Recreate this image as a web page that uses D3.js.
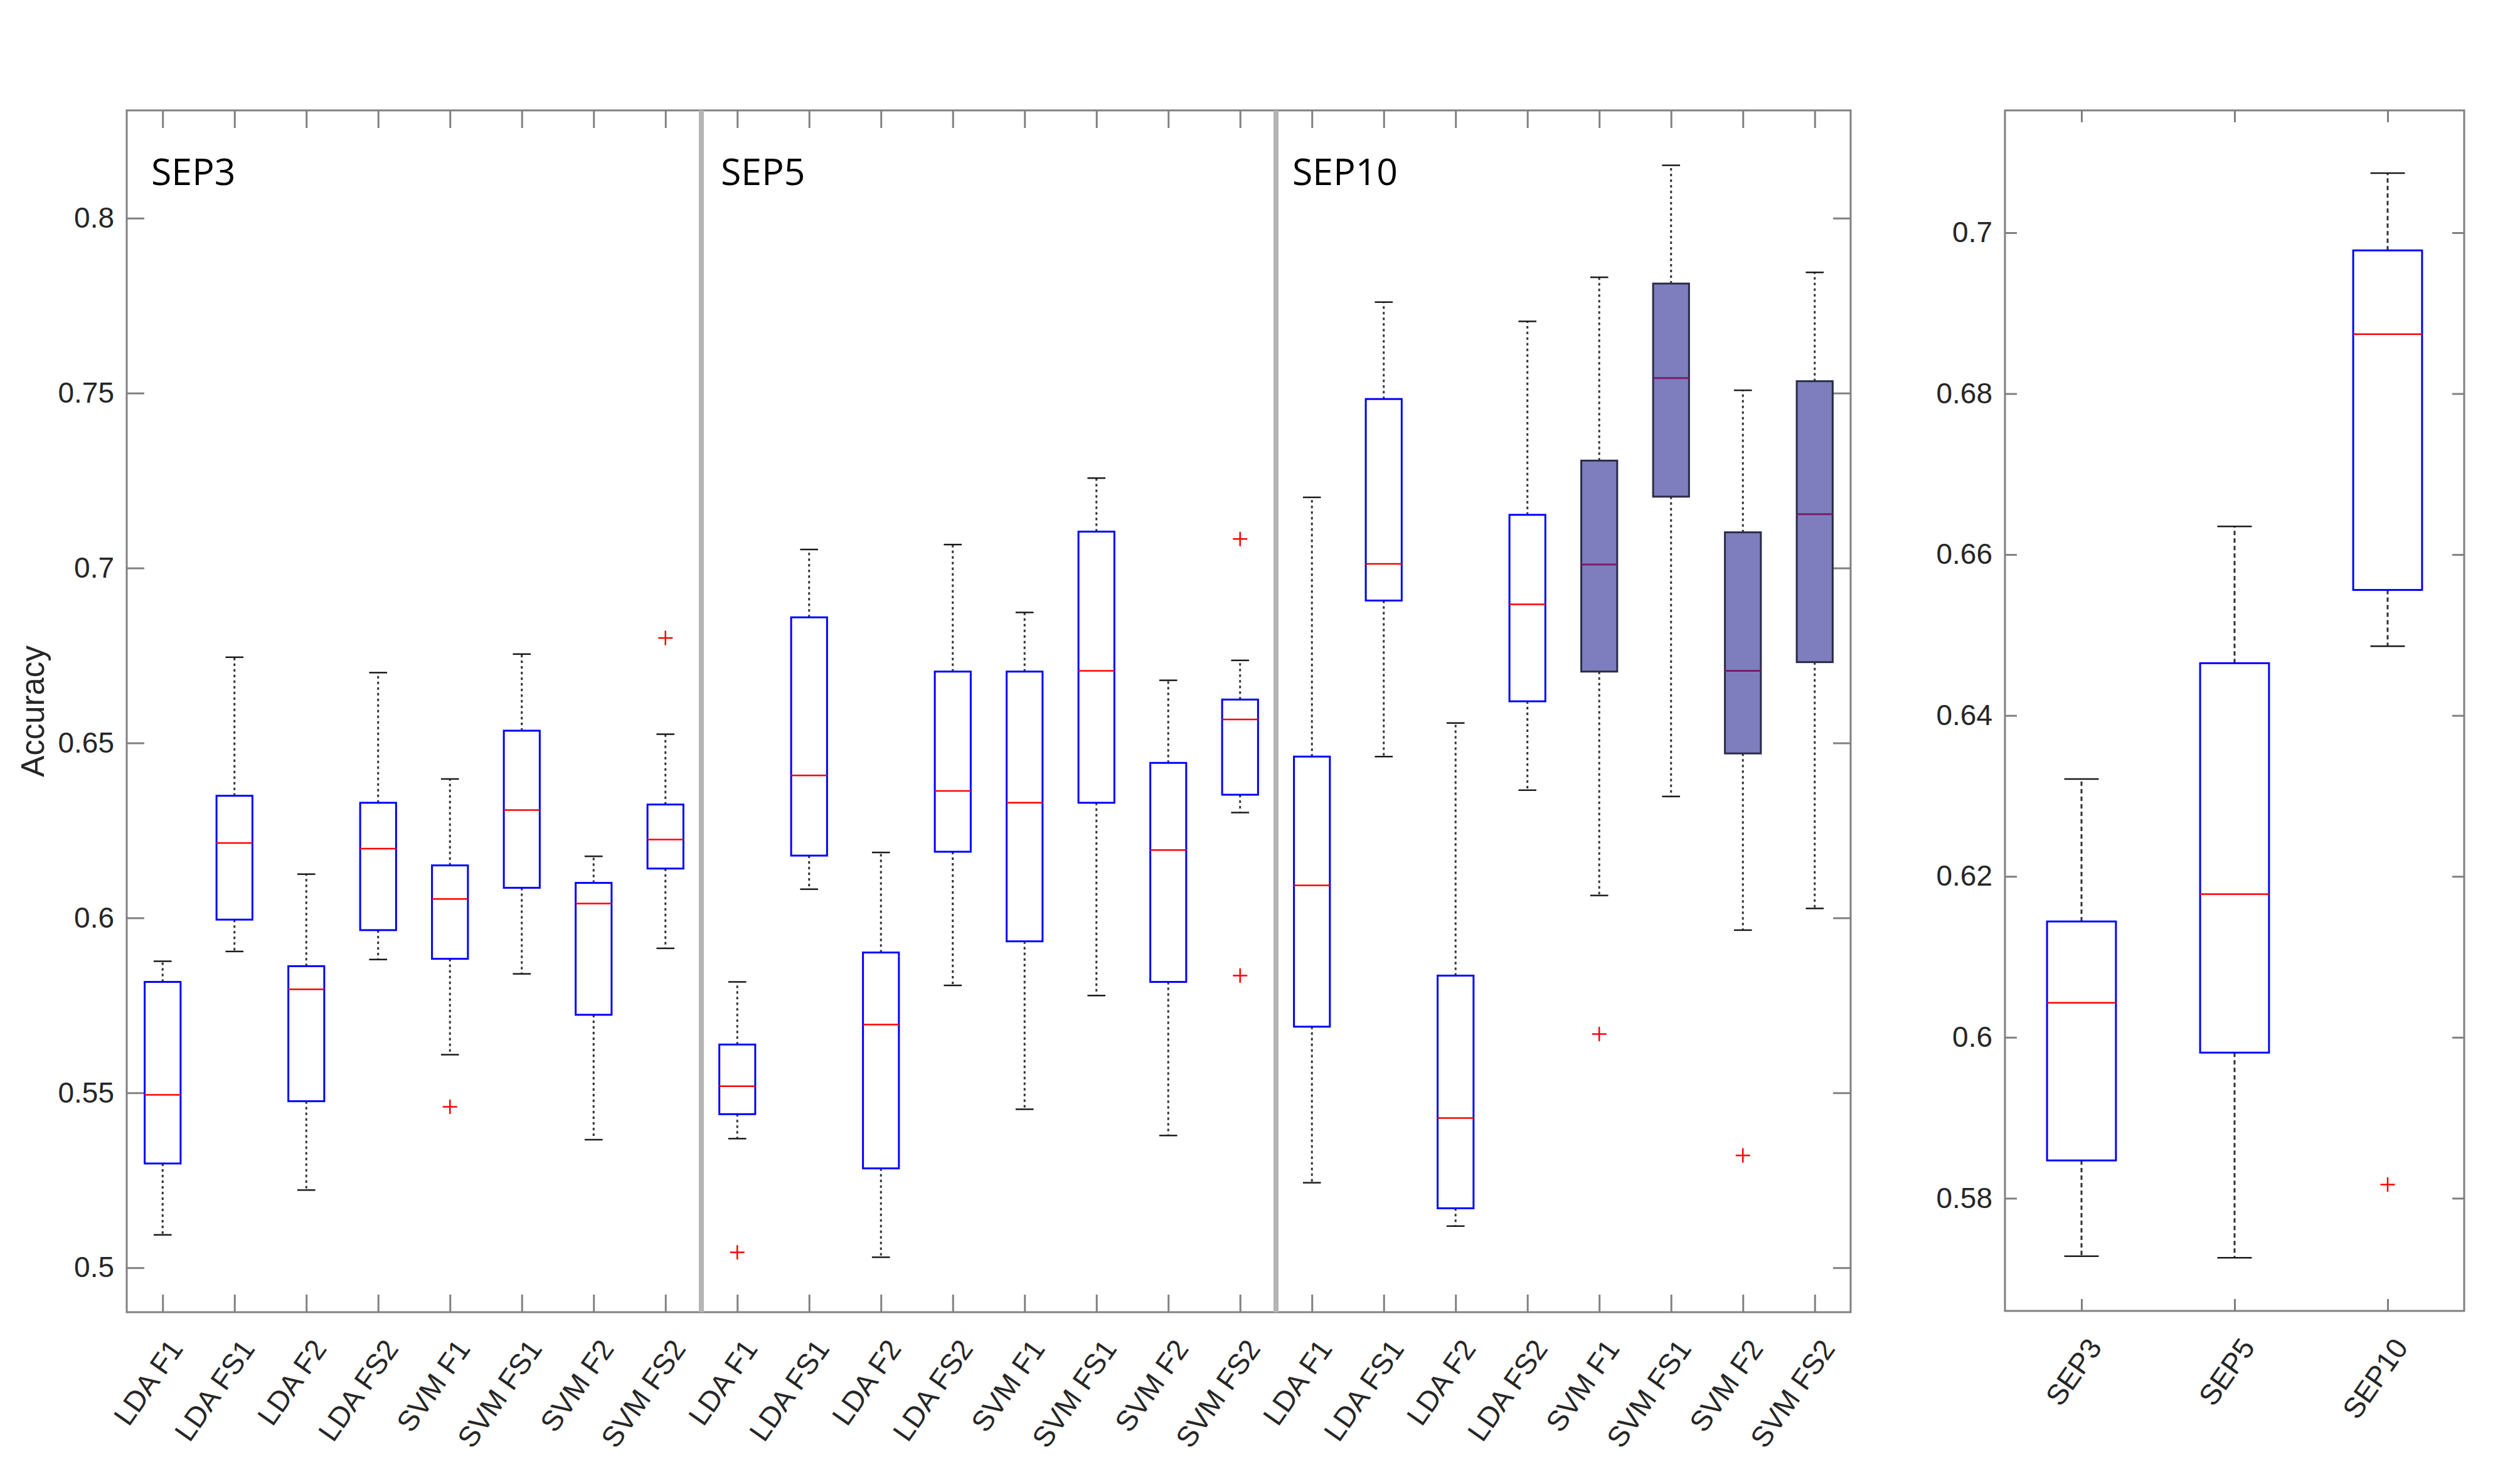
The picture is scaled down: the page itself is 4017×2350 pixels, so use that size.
<!DOCTYPE html>
<html>
<head>
<meta charset="utf-8">
<script src="https://cdn.jsdelivr.net/npm/d3@7"></script>
<style>
  body { margin: 0; background: #fff; }
  text { font-family: "Liberation Sans", Arial, sans-serif; }
</style>
</head>
<body>
<script>
// ---- data ----
var groups = ['SEP3', 'SEP5', 'SEP10'];
var methods = ['LDA F1', 'LDA FS1', 'LDA F2', 'LDA FS2', 'SVM F1', 'SVM FS1', 'SVM F2', 'SVM FS2'];

// 24 boxes: SEP3 x 8 methods, SEP5 x 8, SEP10 x 8
var whiskerLow = [0.5094, 0.5904, 0.5222, 0.5881, 0.5609, 0.5840, 0.5366, 0.5913,
                  0.5369, 0.6082, 0.5030, 0.5807, 0.5453, 0.5778, 0.5378, 0.6301,
                  0.5243, 0.6461, 0.5119, 0.6365, 0.6064, 0.6347, 0.5965, 0.6027];
var q1 =         [0.5298, 0.5995, 0.5476, 0.5965, 0.5883, 0.6086, 0.5723, 0.6141,
                  0.5439, 0.6178, 0.5284, 0.6189, 0.5933, 0.6329, 0.5817, 0.6352,
                  0.5689, 0.6907, 0.5170, 0.6619, 0.6704, 0.7204, 0.6470, 0.6731];
var median =     [0.5494, 0.6214, 0.5796, 0.6198, 0.6054, 0.6308, 0.6041, 0.6224,
                  0.5519, 0.6407, 0.5695, 0.6363, 0.6329, 0.6706, 0.6194, 0.6567,
                  0.6093, 0.7012, 0.5428, 0.6896, 0.7010, 0.7543, 0.6706, 0.7154];
var q3 =         [0.5817, 0.6349, 0.5862, 0.6329, 0.6150, 0.6535, 0.6100, 0.6324,
                  0.5638, 0.6859, 0.5901, 0.6704, 0.6704, 0.7104, 0.6443, 0.6624,
                  0.6461, 0.7483, 0.5835, 0.7152, 0.7307, 0.7813, 0.7102, 0.7534];
var whiskerHigh =[0.5876, 0.6745, 0.6125, 0.6701, 0.6397, 0.6754, 0.6176, 0.6525,
                  0.5817, 0.7053, 0.6187, 0.7067, 0.6873, 0.7257, 0.6679, 0.6736,
                  0.7202, 0.7760, 0.6557, 0.7705, 0.7831, 0.8151, 0.7508, 0.7845];
// [box index, value]
var outliers = [[4, 0.5460], [7, 0.6800],
                [8, 0.5044], [15, 0.7083], [15, 0.5835],
                [20, 0.5668], [22, 0.5321]];

var yTicks = [0.5, 0.55, 0.6, 0.65, 0.7, 0.75, 0.8];
var yTickLabels = ['0.5', '0.55', '0.6', '0.65', '0.7', '0.75', '0.8'];

// summary panel: one box per SEP
var sumLow =  [0.5728, 0.5726, 0.6486];
var sumQ1 =   [0.5847, 0.5981, 0.6556];
var sumMed =  [0.6043, 0.6178, 0.6874];
var sumQ3 =   [0.6144, 0.6465, 0.6978];
var sumHigh = [0.6321, 0.6635, 0.7074];
var sumOutliers = [[2, 0.5817]];

var y2Ticks = [0.58, 0.6, 0.62, 0.64, 0.66, 0.68, 0.7];
var y2TickLabels = ['0.58', '0.6', '0.62', '0.64', '0.66', '0.68', '0.7'];

// boxes drawn shaded (SEP10 SVM)
var shaded = [20, 21, 22, 23];

// ---- layout ----
var W = 4017, H = 2350;
var axisColor = '#808080', textColor = '#262626';

var svg = d3.select('body').append('svg')
    .attr('width', W).attr('height', H)
    .style('background', '#fff');

var labels = [];
groups.forEach(function (g) { methods.forEach(function (m) { labels.push(m); }); });

var x = d3.scaleLinear().domain([0.5, 24.5]).range([202, 2950]);
var y = d3.scaleLinear().domain([0.4873, 0.8308]).range([2092, 176]);

var x2 = d3.scaleLinear().domain([0.5, 3.5]).range([3196, 3928]);
var y2 = d3.scaleLinear().domain([0.566, 0.7152]).range([2090, 176]);

function drawFrame(xs, ys, nx, yt, ytl, tick) {
    var x0 = xs.range()[0], x1 = xs.range()[1], yb = ys.range()[0], yt0 = ys.range()[1];
    var pos = d3.range(1, nx + 1);

    var gl = svg.append('g').attr('transform', 'translate(' + x0 + ',0)')
        .call(d3.axisLeft(ys).tickValues(yt).tickSizeInner(-tick).tickSizeOuter(0).tickPadding(20)
            .tickFormat(function (d, i) { return ytl[i]; }));
    var gr = svg.append('g').attr('transform', 'translate(' + x1 + ',0)')
        .call(d3.axisRight(ys).tickValues(yt).tickSizeInner(-tick).tickSizeOuter(0).tickFormat(''));
    var gt = svg.append('g').attr('transform', 'translate(0,' + yt0 + ')')
        .call(d3.axisTop(xs).tickValues(pos).tickSizeInner(-tick).tickSizeOuter(0).tickFormat(''));
    var gb = svg.append('g').attr('transform', 'translate(0,' + yb + ')')
        .call(d3.axisBottom(xs).tickValues(pos).tickSizeInner(-tick).tickSizeOuter(0).tickFormat(''));

    [gl, gr, gt, gb].forEach(function (g) {
        g.select('.domain').remove();
        g.selectAll('line').attr('stroke', axisColor).attr('stroke-width', 3);
        g.selectAll('text').attr('fill', textColor).style('font-size', '46px')
            .style('font-family', '"Liberation Sans", Arial, sans-serif');
    });

    svg.append('rect')
        .attr('x', x0).attr('y', yt0)
        .attr('width', x1 - x0).attr('height', yb - yt0)
        .attr('fill', 'none').attr('stroke', axisColor).attr('stroke-width', 3);
}

function drawXLabels(xs, ys, names) {
    svg.append('g').selectAll('text')
        .data(names)
        .enter().append('text')
        .attr('transform', function (d, i) {
            return 'translate(' + (xs(i + 1) + 21) + ',' + (ys.range()[0] + 49) + ') rotate(-55)';
        })
        .attr('text-anchor', 'end')
        .attr('dominant-baseline', 'central')
        .attr('fill', textColor)
        .style('font-size', '46px')
        .text(function (d) { return d; });
}

function drawBoxes(xs, ys, lo, a, m, b, hi, outs, boxW, dash) {
    var n = lo.length;
    var idx = d3.range(n);
    var g = svg.append('g');
    var half = boxW / 2;

    // whiskers
    g.selectAll('.wu').data(idx).enter().append('line')
        .attr('x1', function (i) { return xs(i + 1); }).attr('x2', function (i) { return xs(i + 1); })
        .attr('y1', function (i) { return ys(b[i]); }).attr('y2', function (i) { return ys(hi[i]); })
        .attr('stroke', '#333').attr('stroke-width', 3).attr('stroke-dasharray', dash);
    g.selectAll('.wl').data(idx).enter().append('line')
        .attr('x1', function (i) { return xs(i + 1); }).attr('x2', function (i) { return xs(i + 1); })
        .attr('y1', function (i) { return ys(a[i]); }).attr('y2', function (i) { return ys(lo[i]); })
        .attr('stroke', '#333').attr('stroke-width', 3).attr('stroke-dasharray', dash);

    // caps
    [lo, hi].forEach(function (arr) {
        g.append('g').selectAll('line').data(idx).enter().append('line')
            .attr('x1', function (i) { return xs(i + 1 - half / 2); })
            .attr('x2', function (i) { return xs(i + 1 + half / 2); })
            .attr('y1', function (i) { return ys(arr[i]); })
            .attr('y2', function (i) { return ys(arr[i]); })
            .attr('stroke', '#1a1a1a').attr('stroke-width', 2.5);
    });

    // boxes
    g.selectAll('.box').data(idx).enter().append('rect')
        .attr('x', function (i) { return xs(i + 1 - half); })
        .attr('width', function (i) { return xs(i + 1 + half) - xs(i + 1 - half); })
        .attr('y', function (i) { return ys(b[i]); })
        .attr('height', function (i) { return ys(a[i]) - ys(b[i]); })
        .attr('fill', function (i) { return shaded.indexOf(i) >= 0 && n > 3 ? '#7e7ebe' : 'none'; })
        .attr('stroke', function (i) { return shaded.indexOf(i) >= 0 && n > 3 ? '#2b2b48' : '#0000ff'; })
        .attr('stroke-width', 3);

    // medians
    g.selectAll('.med').data(idx).enter().append('line')
        .attr('x1', function (i) { return xs(i + 1 - half); })
        .attr('x2', function (i) { return xs(i + 1 + half); })
        .attr('y1', function (i) { return ys(m[i]); })
        .attr('y2', function (i) { return ys(m[i]); })
        .attr('stroke', function (i) { return shaded.indexOf(i) >= 0 && n > 3 ? '#801a66' : '#ff0000'; })
        .attr('stroke-width', function (i) { return shaded.indexOf(i) >= 0 && n > 3 ? 3 : 2.5; });

    // outliers
    var p = g.selectAll('.out').data(outs).enter().append('g')
        .attr('transform', function (d) { return 'translate(' + xs(d[0] + 1) + ',' + ys(d[1]) + ')'; });
    p.append('line').attr('x1', -11.5).attr('x2', 11.5).attr('y1', 0).attr('y2', 0)
        .attr('stroke', '#ff0000').attr('stroke-width', 2.5);
    p.append('line').attr('x1', 0).attr('x2', 0).attr('y1', -11.5).attr('y2', 11.5)
        .attr('stroke', '#ff0000').attr('stroke-width', 2.5);
}

// left: all 24 boxes
drawFrame(x, y, 24, yTicks, yTickLabels, 28);
drawBoxes(x, y, whiskerLow, q1, median, q3, whiskerHigh, outliers, 0.5, '4,5');
drawXLabels(x, y, labels);

// group separators
svg.append('g').selectAll('line')
    .data([8.5, 16.5])
    .enter().append('line')
    .attr('x1', function (d) { return x(d); }).attr('x2', function (d) { return x(d); })
    .attr('y1', y.range()[1]).attr('y2', y.range()[0])
    .attr('stroke', '#b4b4b4').attr('stroke-width', 8);

// group titles
svg.append('g').selectAll('text')
    .data(groups)
    .enter().append('text')
    .attr('x', function (d, i) { return x(i * 8 + 0.5) + [39, 31, 26][i]; })
    .attr('y', 295)
    .style('font-family', '"Open Sans", "Noto Sans", sans-serif')
    .style('font-size', '59px')
    .attr('fill', '#000')
    .text(function (d) { return d; });

// y label
svg.append('text')
    .attr('transform', 'translate(52,1134) rotate(-90)')
    .attr('text-anchor', 'middle')
    .attr('dominant-baseline', 'central')
    .attr('fill', textColor)
    .style('font-size', '51px')
    .text('Accuracy');

// right: summary per SEP
drawFrame(x2, y2, 3, y2Ticks, y2TickLabels, 19);
drawBoxes(x2, y2, sumLow, sumQ1, sumMed, sumQ3, sumHigh, sumOutliers, 0.45, '7,5');
drawXLabels(x2, y2, groups);
</script>
</body>
</html>
